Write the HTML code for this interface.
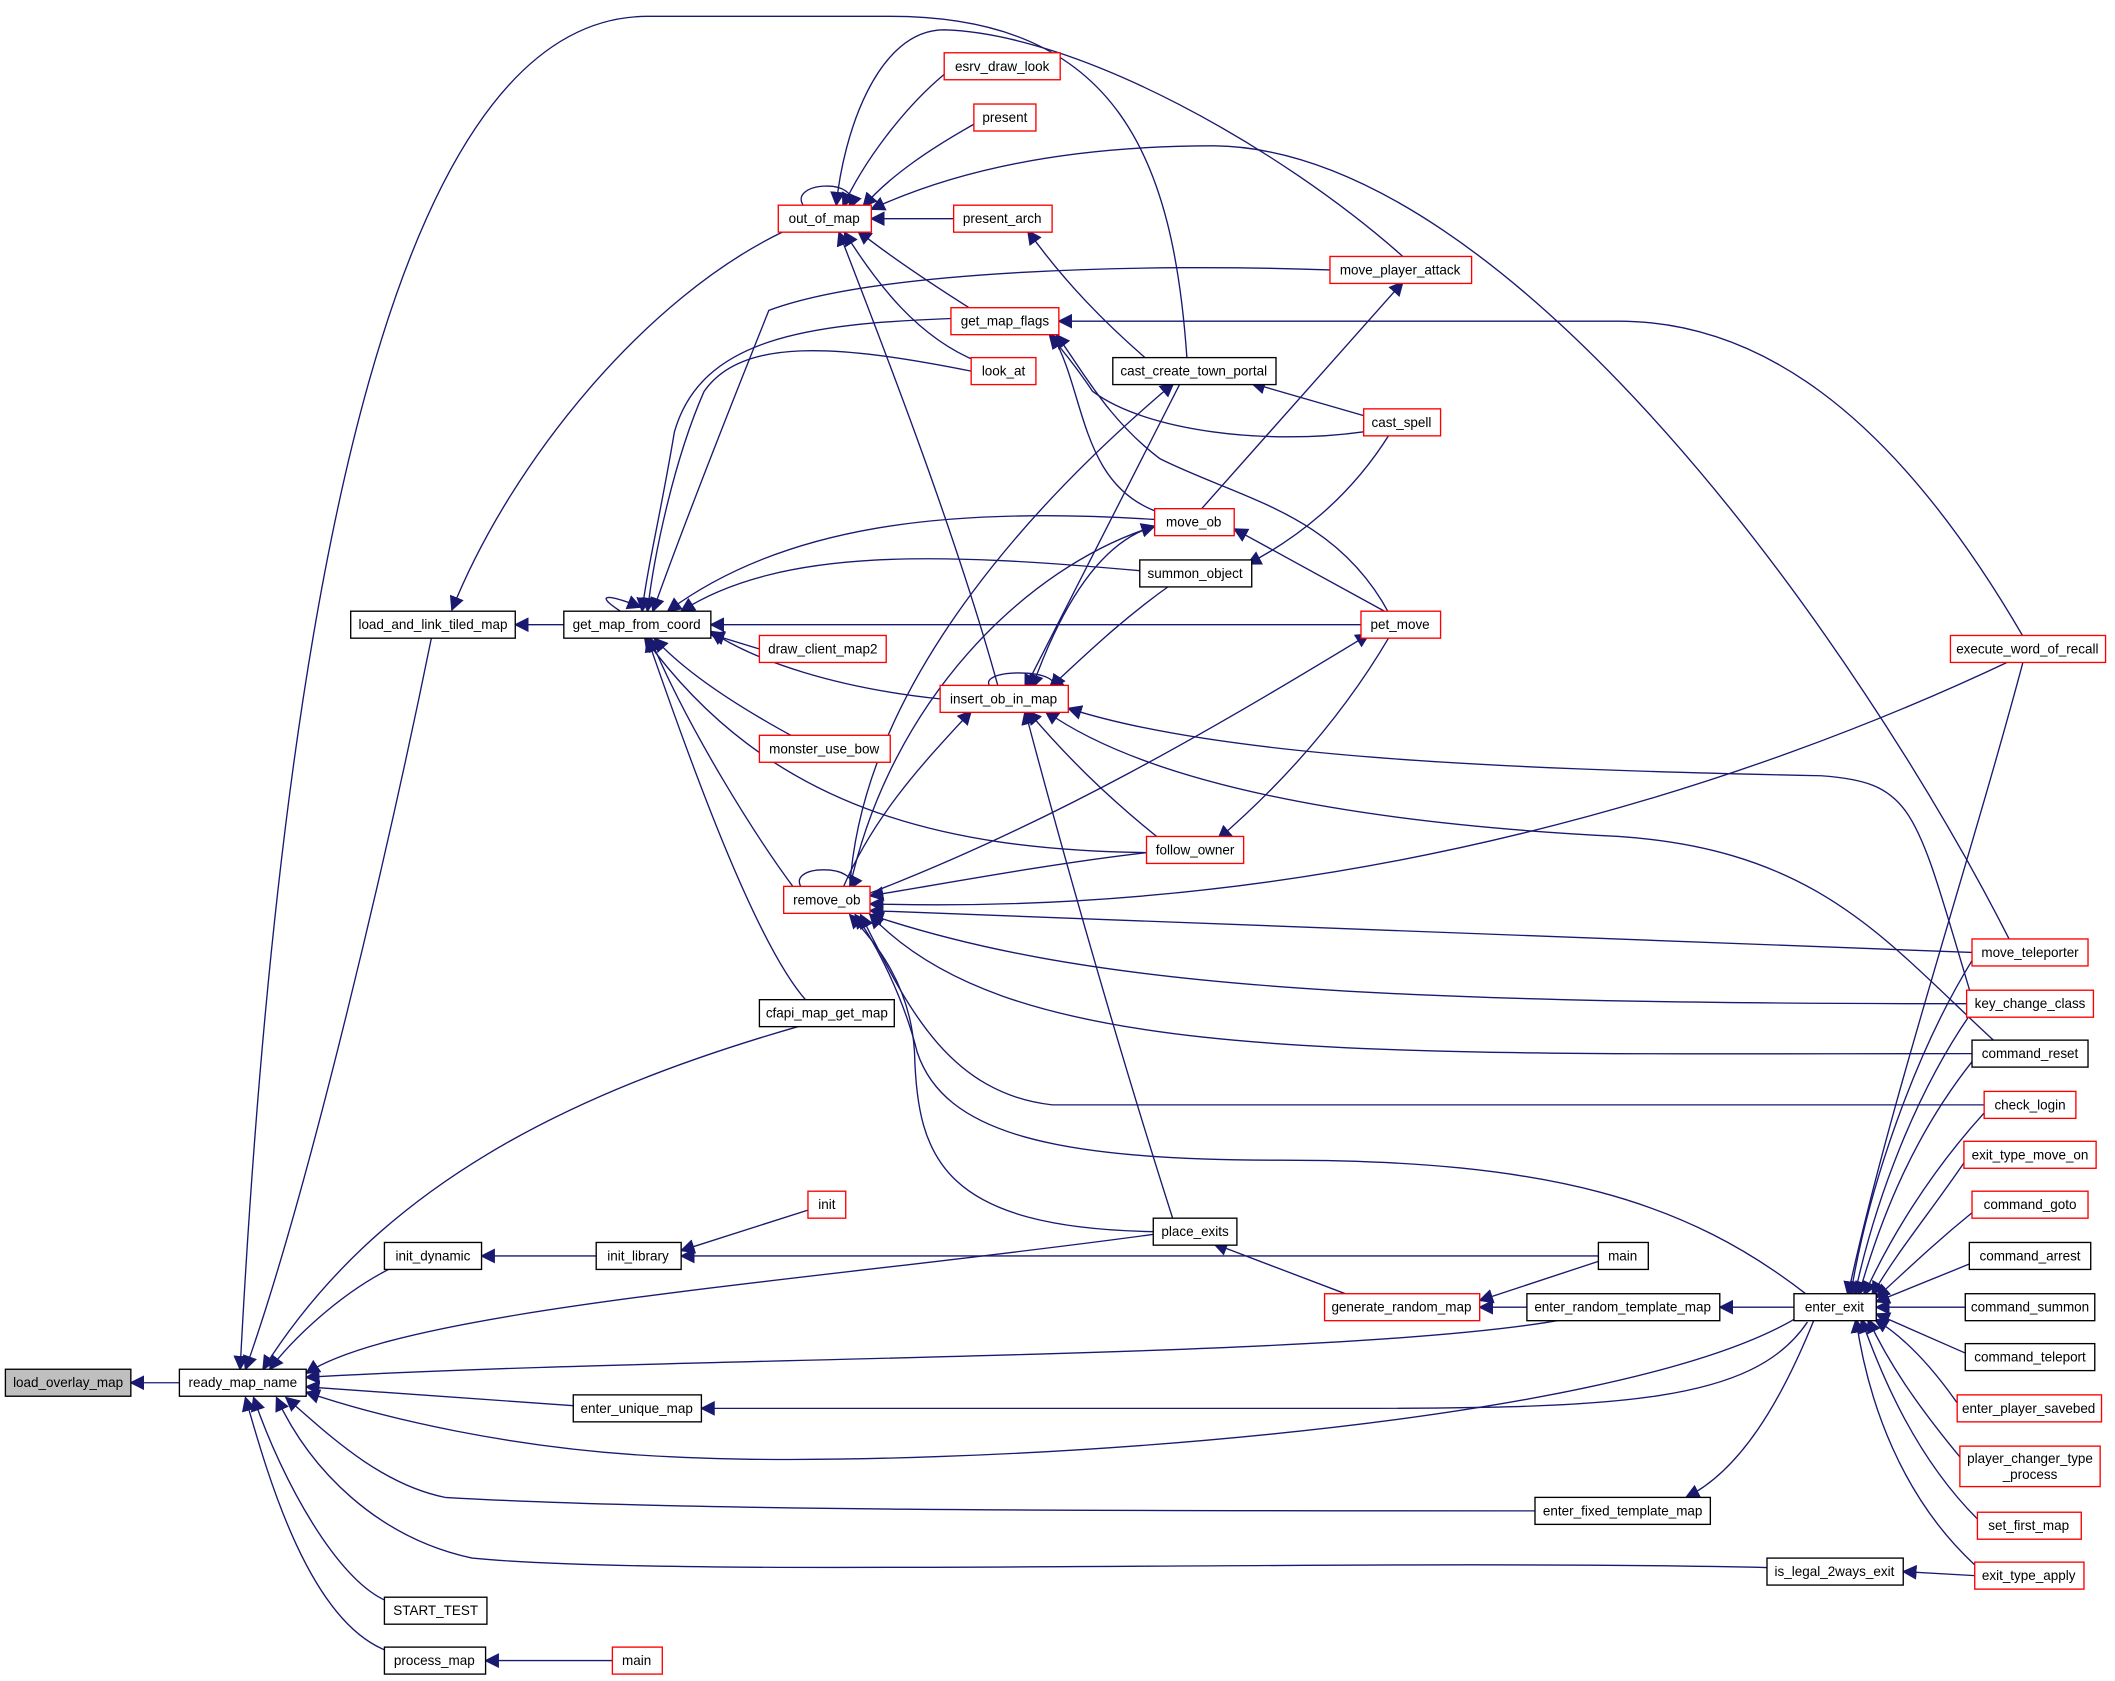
<!DOCTYPE html>
<html><head><meta charset="utf-8"><style>
html,body{margin:0;padding:0;background:#fff;}
svg{display:block;}
text{font-family:"Liberation Sans",sans-serif;font-size:10px;text-anchor:middle;dominant-baseline:central;fill:#000;}
.e{fill:none;stroke:#191970;stroke-width:1;}
.n{fill:#fff;stroke:#000;stroke-width:1;}
.r{fill:#fff;stroke:#ff0000;stroke-width:1;}
</style></head><body>
<svg width="2115" height="1681" viewBox="0 0 1568 1246" xmlns="http://www.w3.org/2000/svg">
<defs><marker id="a" viewBox="0 0 10 10" refX="9" refY="5" markerWidth="11" markerHeight="11" markerUnits="userSpaceOnUse" orient="auto"><path d="M0,0 L10,5 L0,10 z" fill="#191970"/></marker></defs>
<g marker-end="url(#a)">
<path class="e" d="M133,1025 L97,1025"/>
<path class="e" d="M320,472 C290,620 230,880 182,1015"/>
<path class="e" d="M290,940 C250,960 215,995 200,1015"/>
<path class="e" d="M595,760 C420,810 280,880 195,1015"/>
<path class="e" d="M855,915 C600,950 300,970 227,1018"/>
<path class="e" d="M1160,978 C1000,1008 500,1005 227,1021"/>
<path class="e" d="M425,1042 L227,1028"/>
<path class="e" d="M1335,975 C1200,1060 700,1090 500,1080 C380,1075 280,1050 227,1032"/>
<path class="e" d="M1138,1120 C800,1120 500,1120 330,1110 C280,1100 240,1060 212,1036"/>
<path class="e" d="M1310,1162 C1000,1155 500,1170 350,1155 C280,1140 230,1090 205,1036"/>
<path class="e" d="M285,1186 C250,1170 210,1100 188,1036"/>
<path class="e" d="M285,1223 C230,1200 200,1100 182,1036"/>
<path class="e" d="M880,266 C870,120 830,12 660,12 L480,12 C300,12 210,400 178,1015"/>
<path class="e" d="M1040,190 C950,110 800,25 700,22 C650,22 625,100 620,152"/>
<path class="e" d="M418,463 L382,463"/>
<path class="e" d="M580,172 C480,220 380,340 335,452"/>
<path class="e" d="M460,453 C440,440 450,440 475,450"/>
<path class="e" d="M563,481 L527,470"/>
<path class="e" d="M590,547 C540,520 505,495 485,473"/>
<path class="e" d="M598,742 C560,700 510,560 480,473"/>
<path class="e" d="M590,660 C560,620 510,540 482,473"/>
<path class="e" d="M850,632 C700,630 570,600 478,473"/>
<path class="e" d="M697,518 C620,510 560,490 527,468"/>
<path class="e" d="M1009,463 L527,463"/>
<path class="e" d="M845,423 C700,410 580,405 505,453"/>
<path class="e" d="M856,385 C700,375 580,390 495,453"/>
<path class="e" d="M720,275 C620,255 550,250 522,290 C500,340 485,410 480,453"/>
<path class="e" d="M705,236 C600,240 520,250 500,320 C490,380 480,420 476,453"/>
<path class="e" d="M986,200 C850,195 650,200 570,230 C550,280 510,380 484,453"/>
<path class="e" d="M597,154 C580,135 640,130 630,154"/>
<path class="e" d="M700,55 C670,80 640,120 625,153"/>
<path class="e" d="M722,92 C690,110 660,130 640,153"/>
<path class="e" d="M707,162 L646,162"/>
<path class="e" d="M720,229 C690,210 660,190 636,171"/>
<path class="e" d="M725,268 C680,250 650,210 626,172"/>
<path class="e" d="M740,509 C710,400 660,270 622,172"/>
<path class="e" d="M1490,697 C1380,480 1120,110 900,108 C780,108 700,130 646,155"/>
<path class="e" d="M850,266 C820,240 790,210 762,171"/>
<path class="e" d="M1500,472 C1400,300 1300,238 1200,238 L785,238"/>
<path class="e" d="M1011,320 C940,330 850,320 810,290 C800,275 790,262 778,248"/>
<path class="e" d="M860,380 C800,360 805,290 780,248"/>
<path class="e" d="M1030,455 C990,380 920,370 860,340 C820,310 800,270 783,248"/>
<path class="e" d="M1011,308 L928,284"/>
<path class="e" d="M890,378 L1040,209"/>
<path class="e" d="M630,658 C640,500 780,360 870,284"/>
<path class="e" d="M630,658 C660,520 760,420 856,390"/>
<path class="e" d="M1030,455 L915,392"/>
<path class="e" d="M1030,322 C1000,370 960,400 925,418"/>
<path class="e" d="M875,284 L760,510"/>
<path class="e" d="M856,390 C820,400 790,440 765,510"/>
<path class="e" d="M870,432 C830,460 800,490 778,510"/>
<path class="e" d="M735,510 C720,495 790,495 780,510"/>
<path class="e" d="M860,622 C820,590 790,560 762,527"/>
<path class="e" d="M870,905 C830,780 790,640 760,527"/>
<path class="e" d="M1462,740 C1420,600 1420,580 1350,575 C1100,570 900,560 792,525"/>
<path class="e" d="M1480,773 C1400,700 1350,630 1200,620 C1000,610 850,580 775,527"/>
<path class="e" d="M625,658 C650,600 690,560 720,527"/>
<path class="e" d="M1030,472 C990,540 940,590 903,622"/>
<path class="e" d="M645,662 C780,610 900,540 1015,470"/>
<path class="e" d="M850,632 C780,640 700,655 645,664"/>
<path class="e" d="M1490,490 C1300,580 1000,680 645,670"/>
<path class="e" d="M1462,706 L645,675"/>
<path class="e" d="M1458,744 C1000,744 800,730 645,678"/>
<path class="e" d="M1462,781 C1000,781 750,790 645,678"/>
<path class="e" d="M1471,819 L780,819 C700,810 670,740 638,678"/>
<path class="e" d="M1340,960 C1250,890 1150,860 950,860 C780,860 700,840 680,780 C670,740 650,700 634,678"/>
<path class="e" d="M855,913 C700,910 680,860 678,780 C675,730 650,700 630,678"/>
<path class="e" d="M595,659 C580,640 640,640 630,659"/>
<path class="e" d="M442,931 L357,931"/>
<path class="e" d="M599,897 L505,927"/>
<path class="e" d="M1185,931 L505,931"/>
<path class="e" d="M1000,960 L900,922"/>
<path class="e" d="M1132,969 L1097,969"/>
<path class="e" d="M1185,935 L1097,964"/>
<path class="e" d="M1330,969 L1275,969"/>
<path class="e" d="M1340,980 C1300,1040 1200,1044 1000,1044 L520,1044"/>
<path class="e" d="M1345,978 C1320,1040 1290,1090 1250,1110"/>
<path class="e" d="M1464,1168 L1411,1165"/>
<path class="e" d="M454,1231 L360,1231"/>
<path class="e" d="M1500,490 C1460,640 1400,820 1370,960"/>
<path class="e" d="M1462,712 C1420,780 1385,880 1372,960"/>
<path class="e" d="M1462,750 C1420,810 1390,890 1375,960"/>
<path class="e" d="M1462,787 C1420,840 1395,900 1378,960"/>
<path class="e" d="M1471,825 C1430,870 1400,920 1382,960"/>
<path class="e" d="M1456,862 C1430,900 1405,930 1388,960"/>
<path class="e" d="M1462,899 C1430,925 1410,945 1391,962"/>
<path class="e" d="M1460,937 L1391,965"/>
<path class="e" d="M1457,969 L1391,969"/>
<path class="e" d="M1457,1003 L1391,974"/>
<path class="e" d="M1451,1040 C1430,1010 1410,990 1390,978"/>
<path class="e" d="M1453,1080 C1420,1040 1400,1010 1385,978"/>
<path class="e" d="M1466,1126 C1420,1080 1395,1020 1380,978"/>
<path class="e" d="M1464,1160 C1410,1110 1385,1040 1376,978"/>
</g>
<rect x="4" y="1015" width="93" height="20" fill="#bfbfbf" stroke="#000"/><text x="50.5" y="1025">load_overlay_map</text>
<rect class="n" x="133" y="1015" width="94" height="20"/><text x="180" y="1025">ready_map_name</text>
<rect class="n" x="260" y="453" width="122" height="20"/><text x="321" y="463">load_and_link_tiled_map</text>
<rect class="n" x="285" y="921" width="72" height="20"/><text x="321" y="931">init_dynamic</text>
<rect class="n" x="285" y="1184" width="76" height="20"/><text x="323" y="1194">START_TEST</text>
<rect class="n" x="285" y="1221" width="75" height="20"/><text x="322" y="1231">process_map</text>
<rect class="r" x="454" y="1221" width="37" height="20"/><text x="472" y="1231">main</text>
<rect class="n" x="418" y="453" width="109" height="20"/><text x="472" y="463">get_map_from_coord</text>
<rect class="r" x="577" y="152" width="69" height="20"/><text x="611" y="162">out_of_map</text>
<rect class="r" x="700" y="39" width="86" height="20"/><text x="743" y="49">esrv_draw_look</text>
<rect class="r" x="722" y="77" width="46" height="20"/><text x="745" y="87">present</text>
<rect class="r" x="707" y="152" width="73" height="20"/><text x="743" y="162">present_arch</text>
<rect class="r" x="705" y="228" width="80" height="20"/><text x="745" y="238">get_map_flags</text>
<rect class="r" x="720" y="265" width="48" height="20"/><text x="744" y="275">look_at</text>
<rect class="r" x="563" y="471" width="94" height="20"/><text x="610" y="481">draw_client_map2</text>
<rect class="r" x="563" y="545" width="97" height="20"/><text x="611" y="555">monster_use_bow</text>
<rect class="r" x="581" y="657" width="64" height="20"/><text x="613" y="667">remove_ob</text>
<rect class="n" x="563" y="741" width="100" height="20"/><text x="613" y="751">cfapi_map_get_map</text>
<rect class="r" x="697" y="508" width="95" height="20"/><text x="744" y="518">insert_ob_in_map</text>
<rect class="n" x="442" y="921" width="63" height="20"/><text x="473" y="931">init_library</text>
<rect class="r" x="599" y="883" width="28" height="20"/><text x="613" y="893">init</text>
<rect class="r" x="986" y="190" width="105" height="20"/><text x="1038" y="200">move_player_attack</text>
<rect class="n" x="825" y="265" width="121" height="20"/><text x="885" y="275">cast_create_town_portal</text>
<rect class="r" x="1011" y="303" width="57" height="20"/><text x="1039" y="313">cast_spell</text>
<rect class="r" x="856" y="377" width="59" height="20"/><text x="885" y="387">move_ob</text>
<rect class="n" x="845" y="415" width="83" height="20"/><text x="886" y="425">summon_object</text>
<rect class="r" x="1009" y="453" width="59" height="20"/><text x="1038" y="463">pet_move</text>
<rect class="r" x="850" y="620" width="72" height="20"/><text x="886" y="630">follow_owner</text>
<rect class="n" x="855" y="903" width="62" height="20"/><text x="886" y="913">place_exits</text>
<rect class="n" x="1185" y="921" width="37" height="20"/><text x="1203" y="931">main</text>
<rect class="r" x="982" y="959" width="115" height="20"/><text x="1039" y="969">generate_random_map</text>
<rect class="n" x="1132" y="959" width="143" height="20"/><text x="1203" y="969">enter_random_template_map</text>
<rect class="n" x="425" y="1034" width="95" height="20"/><text x="472" y="1044">enter_unique_map</text>
<rect class="n" x="1138" y="1110" width="130" height="20"/><text x="1203" y="1120">enter_fixed_template_map</text>
<rect class="n" x="1310" y="1155" width="101" height="20"/><text x="1360" y="1165">is_legal_2ways_exit</text>
<rect class="n" x="1330" y="959" width="61" height="20"/><text x="1360" y="969">enter_exit</text>
<rect class="r" x="1446" y="471" width="115" height="20"/><text x="1503" y="481">execute_word_of_recall</text>
<rect class="r" x="1462" y="696" width="86" height="20"/><text x="1505" y="706">move_teleporter</text>
<rect class="r" x="1458" y="734" width="94" height="20"/><text x="1505" y="744">key_change_class</text>
<rect class="n" x="1462" y="771" width="86" height="20"/><text x="1505" y="781">command_reset</text>
<rect class="r" x="1471" y="809" width="68" height="20"/><text x="1505" y="819">check_login</text>
<rect class="r" x="1456" y="846" width="98" height="20"/><text x="1505" y="856">exit_type_move_on</text>
<rect class="r" x="1462" y="883" width="86" height="20"/><text x="1505" y="893">command_goto</text>
<rect class="n" x="1460" y="921" width="90" height="20"/><text x="1505" y="931">command_arrest</text>
<rect class="n" x="1457" y="959" width="96" height="20"/><text x="1505" y="969">command_summon</text>
<rect class="n" x="1457" y="996" width="96" height="20"/><text x="1505" y="1006">command_teleport</text>
<rect class="r" x="1451" y="1034" width="107" height="20"/><text x="1504" y="1044">enter_player_savebed</text>
<rect class="r" x="1453" y="1072" width="104" height="30"/><text x="1505" y="1081">player_changer_type</text><text x="1505" y="1093">_process</text>
<rect class="r" x="1466" y="1121" width="77" height="20"/><text x="1504" y="1131">set_first_map</text>
<rect class="r" x="1464" y="1158" width="81" height="20"/><text x="1504" y="1168">exit_type_apply</text>
</svg>
</body></html>
